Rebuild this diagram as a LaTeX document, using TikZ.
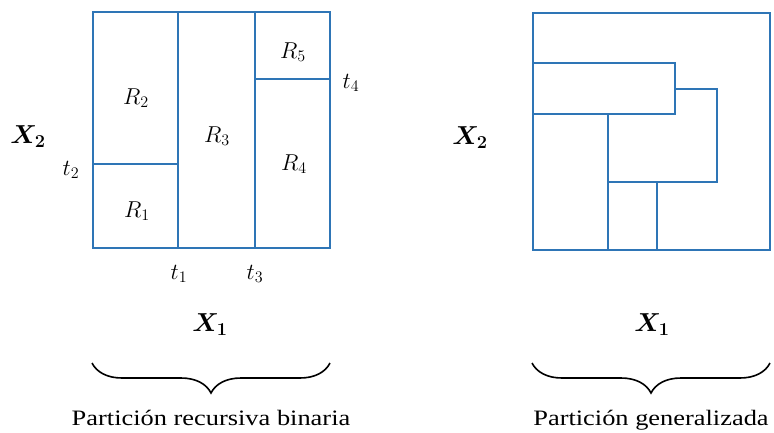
\RequirePackage{fix-cm}
\documentclass[tikz,border=0pt]{standalone}
\usepackage{amsmath,bm}
\usepackage{fontspec}
\setmainfont{Liberation Serif}
\newfontfamily\capfont[FakeStretch=1.2]{Liberation Serif}
\usetikzlibrary{decorations.pathreplacing}
\definecolor{partblue}{RGB}{46,117,182}

\begin{document}
\begin{tikzpicture}[
  x=1pt,y=-1pt,
  every node/.style={align=center,inner sep=0pt},
  part/.style={draw=partblue,line width=2.5pt,line join=miter},
  reg/.style={font=\fontsize{23}{26}\selectfont},
  eje/.style={font=\fontsize{26}{30}\selectfont},
  texto/.style={font=\capfont\fontsize{22}{26}\selectfont,anchor=base},
  llave/.style={decorate,decoration={brace,mirror,amplitude=30pt},line width=1.6pt}
]
\useasboundingbox (0,0) rectangle (774,432);
% particion recursiva binaria
\draw[part] (93,12) rectangle (330,248);
\draw[part] (178,12) -- (178,248);
\draw[part] (255,12) -- (255,248);
\draw[part] (93,164) -- (178,164);
\draw[part] (255,79) -- (330,79);
\node[reg] (r1) at (137,211) {$R_1$};
\node[reg] (r2) at (136,98) {$R_2$};
\node[reg] (r3) at (217,136) {$R_3$};
\node[reg] (r4) at (294,164) {$R_4$};
\node[reg] (r5) at (293,52) {$R_5$};
\node[reg] (t1) at (179,274) {$t_1$};
\node[reg] (t2) at (71,170) {$t_2$};
\node[reg] (t3) at (255,274) {$t_3$};
\node[reg] (t4) at (351,83) {$t_4$};
\node[eje] (x2a) at (28,137) {$\bm{X_2}$};
\node[eje] (x1a) at (210,325) {$\bm{X_1}$};
% particion generalizada
\draw[part] (533,13) rectangle (770,250);
\draw[part] (533,63) rectangle (675,114);
\draw[part] (675,89) -- (717,89) -- (717,182) -- (608,182);
\draw[part] (608,114) -- (608,250);
\draw[part] (657,182) -- (657,250);
\node[eje] (x2b) at (470,138) {$\bm{X_2}$};
\node[eje] (x1b) at (652,325) {$\bm{X_1}$};
% llaves
\coordinate (la) at (92,363);
\coordinate (lb) at (330,363);
\coordinate (ra) at (532,363);
\coordinate (rb) at (770,363);
\draw[llave] (la) -- (lb);
\draw[llave] (ra) -- (rb);
\node[texto] (cap1) at (211,425) {Partición recursiva binaria};
\node[texto] (cap2) at (651,425) {Partición generalizada};
\end{tikzpicture}
\end{document}
